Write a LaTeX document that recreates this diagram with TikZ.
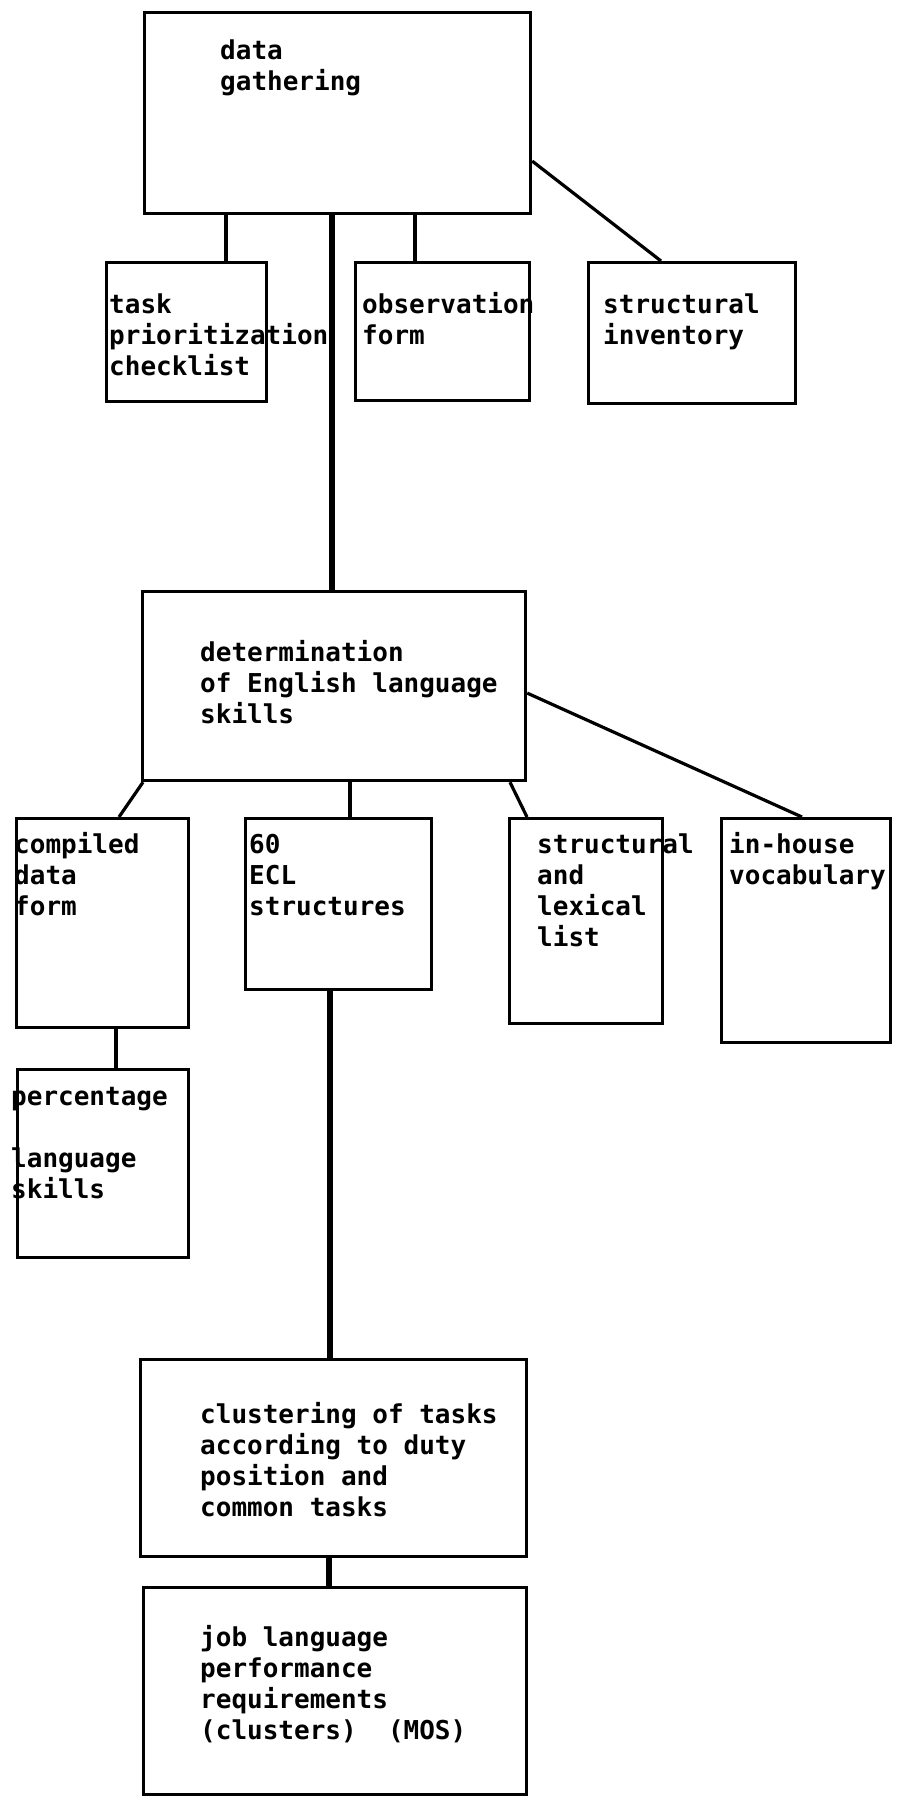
\documentclass[tikz,border=0pt]{standalone}
\usepackage{fontspec}
\setmonofont{DejaVu Sans Mono}
\begin{document}
\begin{tikzpicture}
[
	x=1pt, y=-1pt,
	box/.style={draw, line width=3.2pt, inner sep=0pt, anchor=north west},
	boxtext/.style={anchor=north west, inner sep=0pt, align=left, font=\ttfamily\bfseries\fontsize{26}{31}\selectfont},
	link/.style={line width=3.2pt},
	trunk/.style={line width=6pt}
]
	\useasboundingbox (0,0) rectangle (902,1796);

	% data gathering level
	\node[box, minimum width=386pt, minimum height=201pt] (gather) at (143,11) {};
	\node[box, minimum width=160pt, minimum height=139pt] (task) at (105,261) {};
	\node[box, minimum width=174pt, minimum height=138pt] (observe) at (354,261) {};
	\node[box, minimum width=207pt, minimum height=141pt] (inventory) at (587,261) {};

	\node[boxtext] (gathertxt) at (220,38) {\strut data\\gathering};
	\node[boxtext] (tasktxt) at (109,292) {\strut task\\prioritization\\checklist};
	\node[boxtext] (observetxt) at (362,292) {\strut observation\\form};
	\node[boxtext] (inventorytxt) at (603,292) {\strut structural\\inventory};

	% determination level
	\node[box, minimum width=383pt, minimum height=189pt] (determine) at (141,590) {};
	\node[box, minimum width=172pt, minimum height=209pt] (compiled) at (15,817) {};
	\node[box, minimum width=186pt, minimum height=171pt] (ecl) at (244,817) {};
	\node[box, minimum width=153pt, minimum height=205pt] (lexical) at (508,817) {};
	\node[box, minimum width=169pt, minimum height=224pt] (vocab) at (720,817) {};
	\node[box, minimum width=171pt, minimum height=188pt] (percent) at (16,1068) {};

	\node[boxtext] (determinetxt) at (200,640) {\strut determination\\of English language\\skills};
	\node[boxtext] (compiledtxt) at (14,832) {\strut compiled\\data\\form};
	\node[boxtext] (ecltxt) at (249,832) {\strut 60\\ECL\\structures};
	\node[boxtext] (lexicaltxt) at (537,832) {\strut structural\\and\\lexical\\list};
	\node[boxtext] (vocabtxt) at (729,832) {\strut in-house\\vocabulary};
	\node[boxtext] (percenttxt) at (11,1084) {\strut percentage\\\mbox{}\\language\\skills};

	% clustering level
	\node[box, minimum width=386pt, minimum height=197pt] (cluster) at (139,1358) {};
	\node[box, minimum width=383pt, minimum height=207pt] (require) at (142,1586) {};

	\node[boxtext] (clustertxt) at (200,1402) {\strut clustering of tasks\\according to duty\\position and\\common tasks};
	\node[boxtext] (requiretxt) at (200,1625) {\strut job language\\performance\\requirements\\(clusters)\ \ (MOS)};

	% connectors
	\draw[link] ([xshift=83pt]gather.south west) -- ([xshift=121pt]task.north west);
	\draw[link] ([xshift=272pt]gather.south west) -- ([xshift=61pt]observe.north west);
	\draw[link] ([yshift=-48pt]gather.east) -- ([xshift=74pt]inventory.north west);
	\draw[trunk] ([xshift=189pt]gather.south west) -- ([xshift=191pt]determine.north west);

	\draw[link] ([xshift=2pt]determine.south west) -- ([xshift=104pt]compiled.north west);
	\draw[link] ([xshift=209pt]determine.south west) -- ([xshift=106pt]ecl.north west);
	\draw[link] ([xshift=369pt]determine.south west) -- ([xshift=19pt]lexical.north west);
	\draw[link] ([yshift=-7pt]determine.east) -- ([xshift=82pt]vocab.north west);
	\draw[link] ([xshift=101pt]compiled.south west) -- ([xshift=100pt]percent.north west);

	\draw[trunk] ([xshift=86pt]ecl.south west) -- ([xshift=191pt]cluster.north west);
	\draw[trunk] ([xshift=190pt]cluster.south west) -- ([xshift=187pt]require.north west);

\end{tikzpicture}
\end{document}
